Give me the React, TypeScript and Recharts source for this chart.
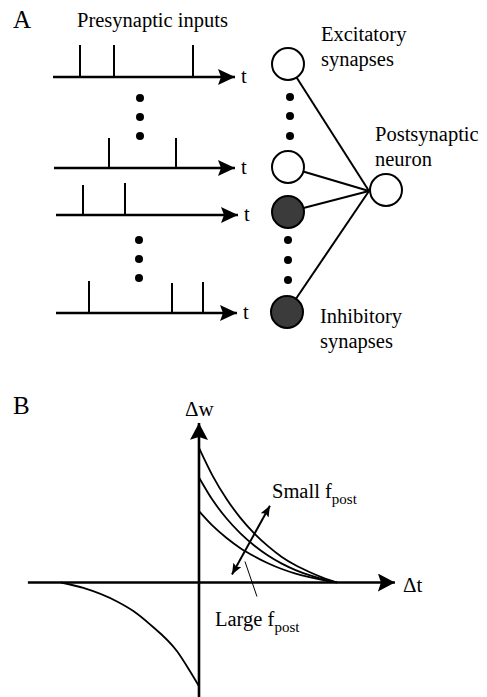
import React from "react";
import { ComposedChart, Line, Scatter, XAxis, YAxis, ReferenceLine } from "recharts";

// ---- panel A: schematic units (x to the right, y downwards) ----
const trainRows = [77, 168, 215, 313];
const trainStart = [53, 54, 56, 56];
const trainEnd = [235, 235, 238, 237];
const spikeTimes = [[80, 114, 193], [109, 176], [83, 125], [89, 172, 203]];
const spikeTops = [[45, 45, 45], [138, 138], [185, 183], [281, 283, 282]];
const inputDotsX = [140, 140, 140, 139, 139, 139];
const inputDotsY = [98, 117, 136, 240, 259, 278];
const synapseDotsX = [290, 290, 290, 288, 288, 288];
const synapseDotsY = [97, 116, 136, 240, 260, 280];
const synapseX = [288, 288, 288, 287];
const synapseY = [64, 167, 212, 312];
const synapseKind = ["exc", "exc", "inh", "inh"];
const postNeuron = [{ x: 386, y: 190 }];
const joinPoint = { x: 369, y: 191 };

// ---- panel B: STDP window (delta t, delta w) ----
const dtPos = [0, 0.1, 0.2, 0.3, 0.4, 0.5, 0.6, 0.7, 0.8, 0.9, 1.0];
const dwSmallRate = [1.0, 0.79, 0.62, 0.48, 0.365, 0.27, 0.19, 0.128, 0.078, 0.035, 0];
const dwMidRate = [0.78, 0.61, 0.475, 0.365, 0.275, 0.2, 0.14, 0.092, 0.054, 0.024, 0];
const dwLargeRate = [0.53, 0.42, 0.33, 0.255, 0.195, 0.143, 0.1, 0.066, 0.039, 0.017, 0];
const dtNeg = [-1, -0.838, -0.594, -0.476, -0.355, -0.159, -0.065, 0];
const dwNeg = [0, -0.04, -0.141, -0.212, -0.311, -0.511, -0.659, -0.77];
const dtAxis = [-1.24, 1.42];
const dwAxis = [-0.85, 1.185];
const rateArrow = [{ x: 0.239, y: 0.059 }, { x: 0.514, y: 0.57 }];
const largePointer = [{ x: 0.333, y: 0.156 }, { x: 0.42, y: -0.104 }];

const zip = (xs: number[], ys: number[]) => xs.map((x, i) => ({ x, y: ys[i] }));
const noMargin = { top: 0, right: 0, bottom: 0, left: 0 };
const serif = "'Liberation Serif', 'Times New Roman', serif";

const trains = trainRows.map((y, i) => [
  { x: trainStart[i], y },
  { x: trainEnd[i], y },
]);
const synapses = synapseX.map((x, i) => ({ x, y: synapseY[i], kind: synapseKind[i] }));

function PanelA() {
  return (
    <ComposedChart width={487} height={350} margin={noMargin}>
      <XAxis type="number" dataKey="x" domain={[0, 487]} hide />
      <YAxis type="number" dataKey="y" domain={[0, 350]} reversed hide />
      {trains.map((d, i) => (
        <Line
          key={"tr" + i}
          data={d}
          dataKey="y"
          stroke="#000"
          strokeWidth={2.3}
          dot={false}
          activeDot={false}
          isAnimationActive={false}
          markerEnd="url(#arrowA)"
        />
      ))}
      {spikeTimes.map((ts, i) =>
        ts.map((t, j) => (
          <ReferenceLine
            key={`sp${i}-${j}`}
            segment={[
              { x: t, y: trainRows[i] },
              { x: t, y: spikeTops[i][j] },
            ]}
            stroke="#000"
            strokeWidth={2}
            ifOverflow="visible"
          />
        ))
      )}
      {synapses.map((s, i) => (
        <Line
          key={"cn" + i}
          data={[{ x: s.x, y: s.y }, joinPoint]}
          dataKey="y"
          stroke="#000"
          strokeWidth={2}
          dot={false}
          activeDot={false}
          isAnimationActive={false}
        />
      ))}
      <Scatter
        data={zip(inputDotsX, inputDotsY)}
        dataKey="y"
        isAnimationActive={false}
        shape={(p: any) => <circle cx={p.cx} cy={p.cy} r={4} fill="#000" />}
      />
      <Scatter
        data={zip(synapseDotsX, synapseDotsY)}
        dataKey="y"
        isAnimationActive={false}
        shape={(p: any) => <circle cx={p.cx} cy={p.cy} r={4} fill="#000" />}
      />
      <Scatter
        data={synapses}
        dataKey="y"
        isAnimationActive={false}
        shape={(p: any) => (
          <circle
            cx={p.cx}
            cy={p.cy}
            r={16}
            fill={p.payload.kind === "inh" ? "#3b3b3b" : "#fff"}
            stroke="#000"
            strokeWidth={2}
          />
        )}
      />
      <Scatter
        data={postNeuron}
        dataKey="y"
        isAnimationActive={false}
        shape={(p: any) => <circle cx={p.cx} cy={p.cy} r={16} fill="#fff" stroke="#000" strokeWidth={2} />}
      />
    </ComposedChart>
  );
}

function PanelB() {
  const curve = (d: { x: number; y: number }[], key: string) => (
    <Line
      key={key}
      data={d}
      dataKey="y"
      type="monotone"
      stroke="#000"
      strokeWidth={1.8}
      dot={false}
      activeDot={false}
      isAnimationActive={false}
    />
  );
  return (
    <ComposedChart width={487} height={347} margin={noMargin}>
      <XAxis type="number" dataKey="x" domain={[-1.442, 2.087]} hide />
      <YAxis type="number" dataKey="y" domain={[-0.844, 1.726]} hide />
      <Line
        data={zip(dtAxis, [0, 0])}
        dataKey="y"
        stroke="#000"
        strokeWidth={2.6}
        dot={false}
        activeDot={false}
        isAnimationActive={false}
        markerEnd="url(#arrowB)"
      />
      <Line
        data={zip([0, 0], dwAxis)}
        dataKey="y"
        stroke="#000"
        strokeWidth={2.6}
        dot={false}
        activeDot={false}
        isAnimationActive={false}
        markerEnd="url(#arrowB)"
      />
      {curve(zip(dtPos, dwSmallRate), "c1")}
      {curve(zip(dtPos, dwMidRate), "c2")}
      {curve(zip(dtPos, dwLargeRate), "c3")}
      {curve(zip(dtNeg, dwNeg), "c4")}
      <Line
        data={rateArrow}
        dataKey="y"
        stroke="#000"
        strokeWidth={2}
        dot={false}
        activeDot={false}
        isAnimationActive={false}
        markerStart="url(#arrowS)"
        markerEnd="url(#arrowS)"
      />
      <Line
        data={largePointer}
        dataKey="y"
        stroke="#000"
        strokeWidth={1}
        dot={false}
        activeDot={false}
        isAnimationActive={false}
      />
    </ComposedChart>
  );
}

function Labels() {
  const t = { fontFamily: serif, fontSize: 20.5, fill: "#000" };
  const tLabels = trainRows.map((y, i) => (
    <text key={"t" + i} x={trainEnd[i] + 6} y={y + 6} {...t}>
      t
    </text>
  ));
  return (
    <svg
      width={487}
      height={697}
      style={{ position: "absolute", left: 0, top: 0, pointerEvents: "none" }}
    >
      <text x={13} y={28} {...t} fontSize={25}>A</text>
      <text x={77} y={27} {...t}>Presynaptic inputs</text>
      {tLabels}
      <text x={321} y={41} {...t}>Excitatory</text>
      <text x={321} y={66} {...t}>synapses</text>
      <text x={375} y={141} {...t}>Postsynaptic</text>
      <text x={375} y={166} {...t}>neuron</text>
      <text x={320} y={323} {...t}>Inhibitory</text>
      <text x={320} y={348} {...t}>synapses</text>
      <text x={13} y={414} {...t} fontSize={25}>B</text>
      <text x={185} y={416} {...t} fontSize={21}>Δw</text>
      <text x={403} y={592} {...t} fontSize={21}>Δt</text>
      <text x={272} y={498} {...t}>
        Small f<tspan fontSize={15} dy={6}>post</tspan>
      </text>
      <text x={215} y={626} {...t}>
        Large f<tspan fontSize={15} dy={6}>post</tspan>
      </text>
    </svg>
  );
}

export default function App() {
  return (
    <div style={{ position: "relative", width: 487, height: 697, background: "#fff", overflow: "hidden" }}>
      <style>{"body{margin:0}"}</style>
      <svg width={0} height={0} style={{ position: "absolute" }}>
        <defs>
          <marker id="arrowA" markerUnits="userSpaceOnUse" markerWidth={20} markerHeight={18} refX={17} refY={8} orient="auto">
            <path d="M0,0 L17,8 L0,16 L3,8 Z" fill="#000" />
          </marker>
          <marker id="arrowB" markerUnits="userSpaceOnUse" markerWidth={20} markerHeight={20} refX={17} refY={9} orient="auto">
            <path d="M0,0 L17,9 L0,18 L3,9 Z" fill="#000" />
          </marker>
          <marker id="arrowS" markerUnits="userSpaceOnUse" markerWidth={12} markerHeight={10} refX={11} refY={4.5} orient="auto-start-reverse">
            <path d="M0,0 L11,4.5 L0,9 L2,4.5 Z" fill="#000" />
          </marker>
        </defs>
      </svg>
      <div style={{ position: "absolute", left: 0, top: 0 }}>
        <PanelA />
      </div>
      <div style={{ position: "absolute", left: 0, top: 350 }}>
        <PanelB />
      </div>
      <Labels />
    </div>
  );
}
